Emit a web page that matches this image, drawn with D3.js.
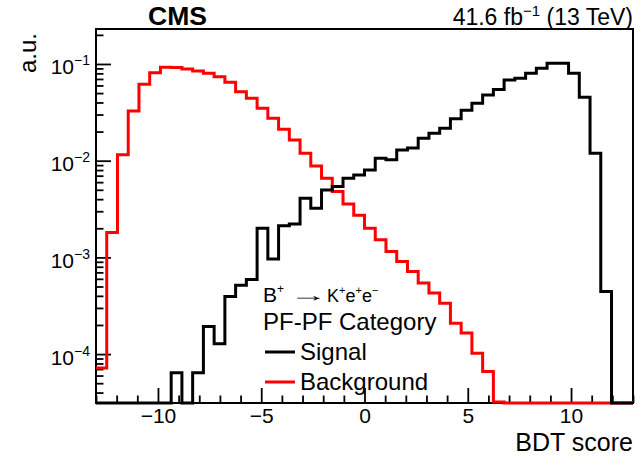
<!DOCTYPE html>
<html>
<head>
<meta charset="utf-8">
<script src="https://cdn.jsdelivr.net/npm/d3@7"></script>
<style>
  body { margin: 0; background: #ffffff; }
  text { font-family: "Liberation Sans", Arial, sans-serif; fill: #000; }
</style>
</head>
<body>
<div id="app"></div>
<script>
// binning of the BDT score
var xMin = -13,
  xMax = 13,
  nBins = 50;

// normalised bin contents (a.u.), one per bin
var background = [
  7.2e-5, 1.81e-3, 1.15e-2, 3.27e-2, 6.17e-2, 8.13e-2, 9.24e-2, 9.22e-2, 8.88e-2, 8.47e-2,
  8.01e-2, 7.39e-2, 6.47e-2, 5.17e-2, 4.42e-2, 3.48e-2, 2.75e-2, 2.11e-2, 1.64e-2, 1.195e-2,
  8.83e-3, 6.59e-3, 4.79e-3, 3.57e-3, 2.72e-3, 2.0e-3, 1.52e-3, 1.15e-3, 9.06e-4, 7.14e-4,
  5.42e-4, 4.27e-4, 3.36e-4, 2.09e-4, 1.65e-4, 1.02e-4, 6.6e-5, 3.2e-5, 0, 0,
  0, 0, 0, 0, 0, 0, 0, 0, 0, 0
];
var signal = [
  0, 0, 0, 0, 0, 0, 0, 6.4e-5, 0, 6.4e-5,
  1.93e-4, 1.28e-4, 3.94e-4, 5.14e-4, 5.92e-4, 2.0e-3, 9.6e-4, 2.12e-3, 2.22e-3, 4.09e-3,
  3.23e-3, 4.99e-3, 5.4e-3, 6.59e-3, 7.13e-3, 8.03e-3, 1.06e-2, 1.02e-2, 1.29e-2, 1.35e-2,
  1.71e-2, 1.92e-2, 2.17e-2, 2.72e-2, 3.32e-2, 3.93e-2, 4.78e-2, 5.44e-2, 6.83e-2, 7.11e-2,
  8.01e-2, 9.03e-2, 0.1017, 0.1017, 8.01e-2, 4.53e-2, 1.195e-2, 4.44e-4, 0, 0
];

// axis ticks
var xMajor = [-10, -5, 0, 5, 10];
var xMinor = [-13, -12, -11, -9, -8, -7, -6, -4, -3, -2, -1, 1, 2, 3, 4, 6, 7, 8, 9, 11, 12, 13];
var yMajor = [1e-4, 1e-3, 1e-2, 1e-1];
var yDomain = [3.12e-5, 0.23];

var width = 636,
  height = 457;
var frame = { left: 96, right: 633, top: 29, bottom: 403 };

var svg = d3
  .select("#app")
  .append("svg")
  .attr("width", width)
  .attr("height", height)
  .attr("style", "background-color:#ffffff");

var x = d3.scaleLinear().domain([xMin, xMax]).range([frame.left, frame.right]);
var y = d3.scaleLog().domain(yDomain).range([frame.bottom, frame.top]);

var edges = d3.range(nBins + 1).map((i) => xMin + (i * (xMax - xMin)) / nBins);

// minor y ticks: 2..9 in every decade inside the range
var yMinor = [];
for (var e = -5; e <= 0; e++) {
  for (var m = 2; m <= 9; m++) {
    var v = m * Math.pow(10, e);
    if (v > yDomain[0] && v < yDomain[1]) yMinor.push(v);
  }
}

// frame
svg
  .append("rect")
  .attr("x", frame.left)
  .attr("y", frame.top)
  .attr("width", frame.right - frame.left)
  .attr("height", frame.bottom - frame.top)
  .attr("fill", "none")
  .attr("stroke", "#000")
  .attr("stroke-width", 2);

// x axis
var xAxis = svg
  .append("g")
  .attr("transform", "translate(0," + frame.bottom + ")")
  .call(d3.axisBottom(x).tickValues(xMajor).tickSize(-15).tickPadding(5).tickFormat(d3.format("d")));
svg
  .append("g")
  .attr("transform", "translate(0," + frame.bottom + ")")
  .call(d3.axisBottom(x).tickValues(xMinor).tickSize(-7.5).tickFormat(""))
  .call((g) => g.select(".domain").remove());
xAxis.select(".domain").remove();
xAxis.selectAll(".tick text").attr("font-size", 21).attr("font-family", "Liberation Sans, Arial, sans-serif");

// y axis
var yAxis = svg
  .append("g")
  .attr("transform", "translate(" + frame.left + ",0)")
  .call(d3.axisLeft(y).tickValues(yMajor).tickSize(-15).tickFormat(""));
svg
  .append("g")
  .attr("transform", "translate(" + frame.left + ",0)")
  .call(d3.axisLeft(y).tickValues(yMinor).tickSize(-7.5).tickFormat(""))
  .call((g) => g.select(".domain").remove());
yAxis.select(".domain").remove();

yAxis
  .selectAll(".tick text")
  .attr("dy", null)
  .attr("x", -6)
  .attr("y", 10)
  .attr("font-size", 21)
  .attr("font-family", "Liberation Sans, Arial, sans-serif")
  .attr("text-anchor", "end")
  .call((t) => {
    t.append("tspan").text("10");
    t.append("tspan")
      .attr("dy", -9)
      .attr("font-size", 14)
      .text((d) => "\u2212" + Math.round(-Math.log10(d)));
  });

svg.selectAll(".tick line").attr("stroke", "#000").attr("stroke-width", 1.8);

// histograms, drawn as steps; empty bins sit on the bottom of the frame
var step = d3
  .line()
  .curve(d3.curveStepAfter)
  .x((d) => x(d[0]))
  .y((d) => y(Math.max(d[1], yDomain[0])));

function histPoints(values) {
  var pts = values.map((v, i) => [edges[i], v]);
  pts.push([edges[nBins], values[nBins - 1]]);
  return pts;
}

svg
  .append("path")
  .attr("class", "background")
  .datum(histPoints(background))
  .attr("d", step)
  .attr("fill", "none")
  .attr("stroke", "#ff0000")
  .attr("stroke-width", 3);

svg
  .append("path")
  .attr("class", "signal")
  .datum(histPoints(signal))
  .attr("d", step)
  .attr("fill", "none")
  .attr("stroke", "#000000")
  .attr("stroke-width", 3);

// titles
svg
  .append("text")
  .attr("x", 148)
  .attr("y", 25)
  .attr("font-size", 25)
  .attr("font-weight", "bold")
  .attr("textLength", 59)
  .attr("lengthAdjust", "spacingAndGlyphs")
  .text("CMS");

var lumi = svg
  .append("text")
  .attr("x", frame.right)
  .attr("y", 25)
  .attr("font-size", 23)
  .attr("text-anchor", "end");
lumi.append("tspan").text("41.6 fb");
lumi.append("tspan").attr("dy", -9).attr("font-size", 15).text("\u22121");
lumi.append("tspan").attr("dy", 9).text(" (13 TeV)");

svg
  .append("text")
  .attr("transform", "translate(36,33) rotate(-90)")
  .attr("text-anchor", "end")
  .attr("font-size", 24)
  .text("a.u.");

svg
  .append("text")
  .attr("x", frame.right)
  .attr("y", 451)
  .attr("text-anchor", "end")
  .attr("font-size", 25)
  .text("BDT score");

// legend header: B+ -> K+ e+ e-
var bPart = svg.append("text").attr("x", 263).attr("y", 302).attr("font-size", 21);
bPart.append("tspan").text("B");
bPart.append("tspan").attr("dy", -9).attr("font-size", 12).text("+");

svg
  .append("text")
  .attr("transform", "translate(289,301) scale(2.1,1)")
  .attr("font-family", "DejaVu Sans")
  .attr("font-size", 18)
  .text("\u2192");

var kPart = svg.append("text").attr("x", 327).attr("y", 302).attr("font-size", 18);
kPart.append("tspan").text("K");
kPart.append("tspan").attr("dy", -8).attr("font-size", 11).text("+");
kPart.append("tspan").attr("dy", 8).text("e");
kPart.append("tspan").attr("dy", -8).attr("font-size", 11).text("+");
kPart.append("tspan").attr("dy", 8).text("e");
kPart.append("tspan").attr("dy", -8).attr("font-size", 11).text("\u2212");

svg
  .append("text")
  .attr("x", 263)
  .attr("y", 330)
  .attr("font-size", 24)
  .text("PF-PF Category");

var entries = [
  { name: "Signal", color: "#000000", y: 352 },
  { name: "Background", color: "#ff0000", y: 382 }
];

var leg = svg
  .append("g")
  .selectAll("g")
  .data(entries)
  .enter()
  .append("g");
leg
  .append("line")
  .attr("x1", 265)
  .attr("x2", 295)
  .attr("y1", (d) => d.y)
  .attr("y2", (d) => d.y)
  .attr("stroke", (d) => d.color)
  .attr("stroke-width", 3);
leg
  .append("text")
  .attr("x", 300)
  .attr("y", (d) => d.y + 8)
  .attr("font-size", 24)
  .text((d) => d.name);
</script>
</body>
</html>
